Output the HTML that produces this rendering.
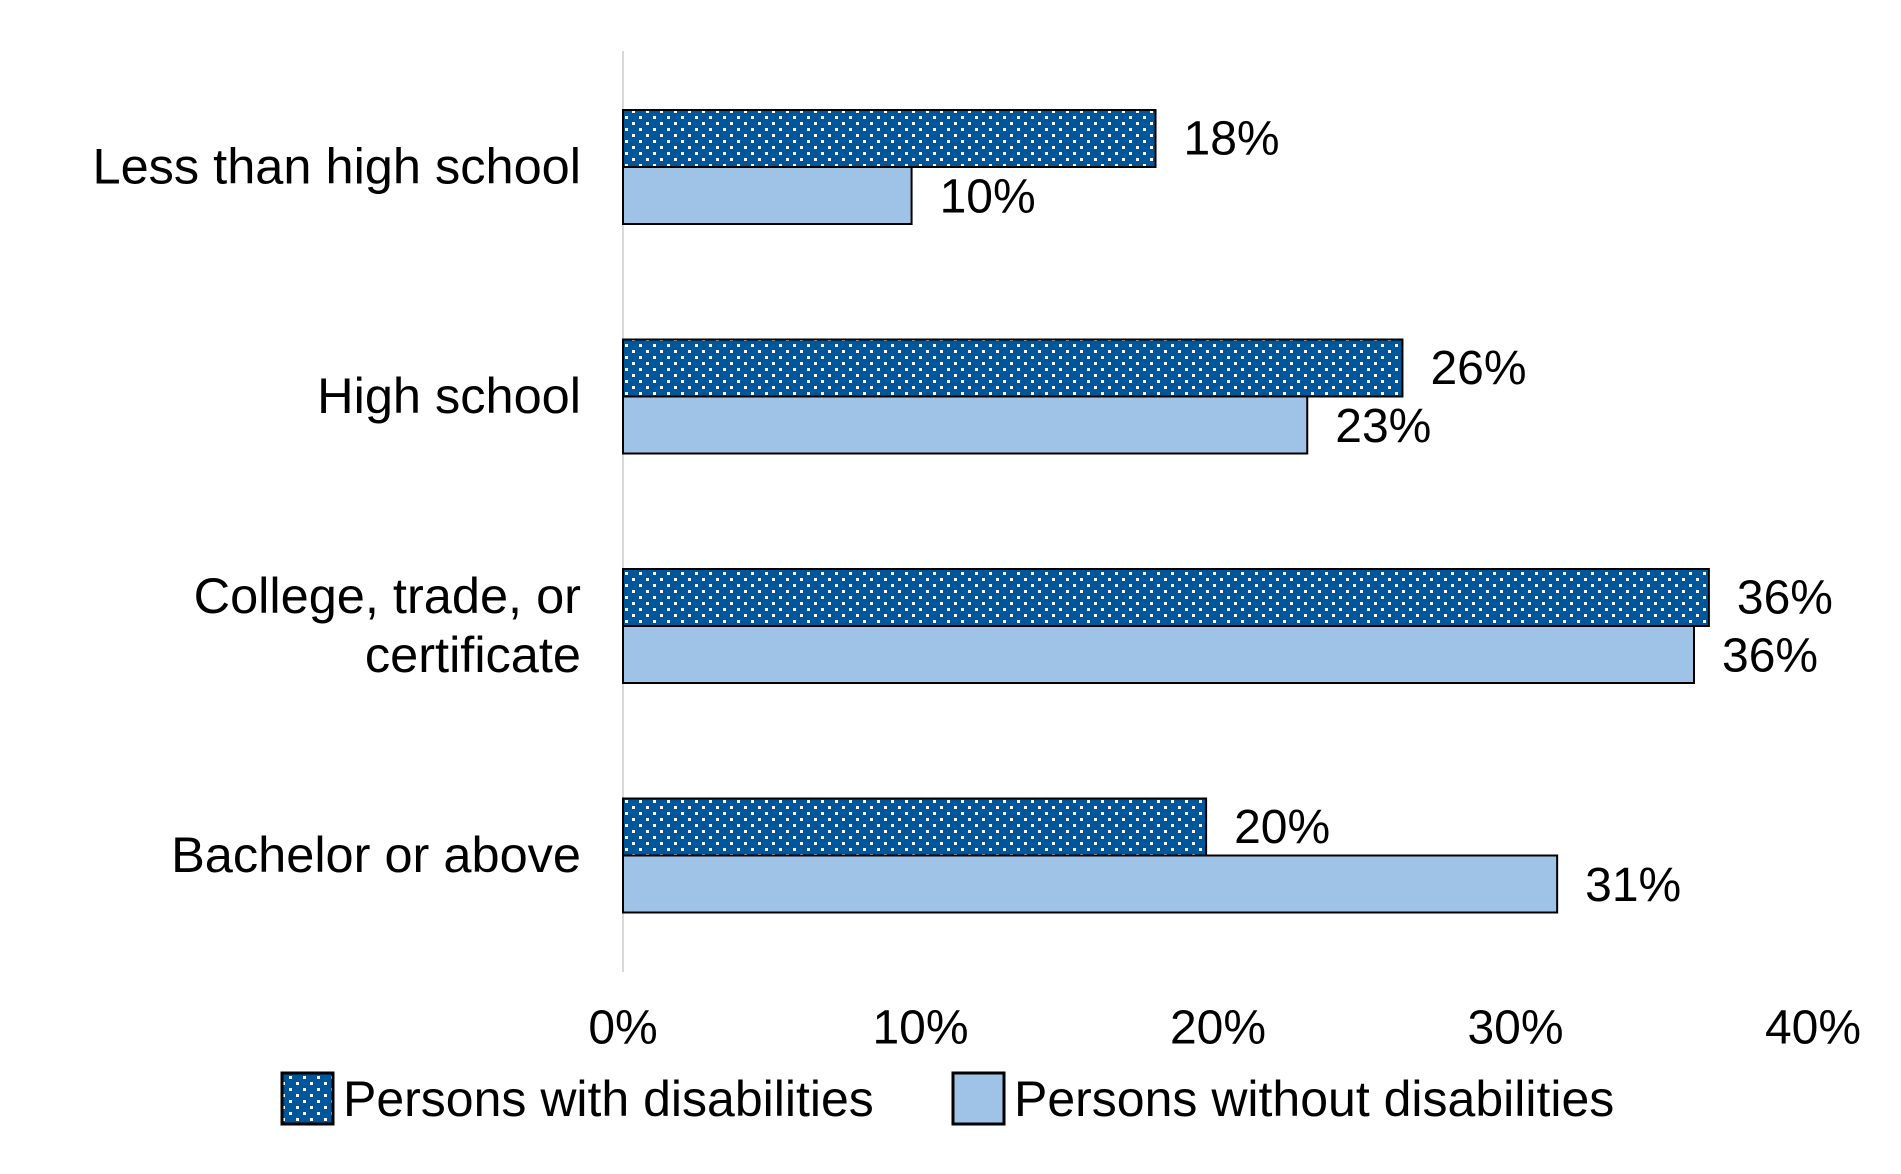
<!DOCTYPE html>
<html><head><meta charset="utf-8"><style>
html,body{margin:0;padding:0;background:#fff;}
svg text{font-family:"Liberation Sans",Arial,sans-serif;fill:#000;}
</style></head><body>
<svg id="chart" width="1901" height="1169" viewBox="0 0 1901 1169" xmlns="http://www.w3.org/2000/svg">
<defs>
<pattern id="dots" width="14" height="12" patternUnits="userSpaceOnUse">
<rect width="14" height="12" fill="#00569b"/>
<rect x="2" y="2" width="3" height="3" fill="#fff"/>
<rect x="9" y="8" width="3" height="3" fill="#fff"/>
</pattern>
</defs>
<g id="plot"></g>
</svg>
<script>
const categories = [["Less than high school"],["High school"],["College, trade, or","certificate"],["Bachelor or above"]];
const withDis = [17.9, 26.2, 36.5, 19.6];
const withoutDis = [9.7, 23.0, 36.0, 31.4];
const withLabels = ["18%","26%","36%","20%"];
const withoutLabels = ["10%","23%","36%","31%"];
const ticks = [0,10,20,30,40];
const tickLabels = ["0%","10%","20%","30%","40%"];

const NS="http://www.w3.org/2000/svg";
const g=document.getElementById('plot');
const x0=623, pxPer=29.75, top0=167, step=229.5, bh=57;
const xs=v=>x0+v*pxPer;
const yc=i=>top0+i*step;
function mk(tag,attrs,parent){const e=document.createElementNS(NS,tag);for(const k in attrs)e.setAttribute(k,attrs[k]);(parent||g).appendChild(e);return e;}

const ax=mk('line',{x1:x0,x2:x0,y1:51,y2:972,stroke:'#d9d9d9','stroke-width':2});



categories.forEach((lines,i)=>{
  const c=yc(i);
  const b1=mk('rect',{x:x0,y:c-bh,width:xs(withDis[i])-x0,height:bh,fill:'url(#dots)',stroke:'#000','stroke-width':2});
  
  
  const b2=mk('rect',{x:x0,y:c,width:xs(withoutDis[i])-x0,height:bh,fill:'#9fc3e6',stroke:'#000','stroke-width':2});
  
  
  const t1=mk('text',{x:xs(withDis[i])+28,y:c-28,'font-size':48,'dominant-baseline':'central'});
  t1.textContent=withLabels[i];
  
  
  const t2=mk('text',{x:xs(withoutDis[i])+28,y:c+30,'font-size':48,'dominant-baseline':'central'});
  t2.textContent=withoutLabels[i];
  
  
  lines.forEach((ln,j)=>{
    const off=(j-(lines.length-1)/2)*59;
    const t=mk('text',{x:581,y:c+off-1,'font-size':50.5,'text-anchor':'end','dominant-baseline':'central'});
    t.textContent=ln;
    
    
  });
});

ticks.forEach((v,i)=>{
  const t=mk('text',{x:xs(v),y:1028,'font-size':48,'text-anchor':'middle','dominant-baseline':'central'});
  t.textContent=tickLabels[i];
  
  
});

const l1=mk('rect',{x:282,y:1078-5,width:51,height:51,fill:'url(#dots)',stroke:'#000','stroke-width':3});


const lt1=mk('text',{x:343,y:1099,'font-size':50,'dominant-baseline':'central'});
lt1.textContent='Persons with disabilities';


const l2=mk('rect',{x:953,y:1073,width:51,height:51,fill:'#9fc3e6',stroke:'#000','stroke-width':3});


const lt2=mk('text',{x:1014,y:1099,'font-size':50,'dominant-baseline':'central'});
lt2.textContent='Persons without disabilities';


</script>
</body></html>
